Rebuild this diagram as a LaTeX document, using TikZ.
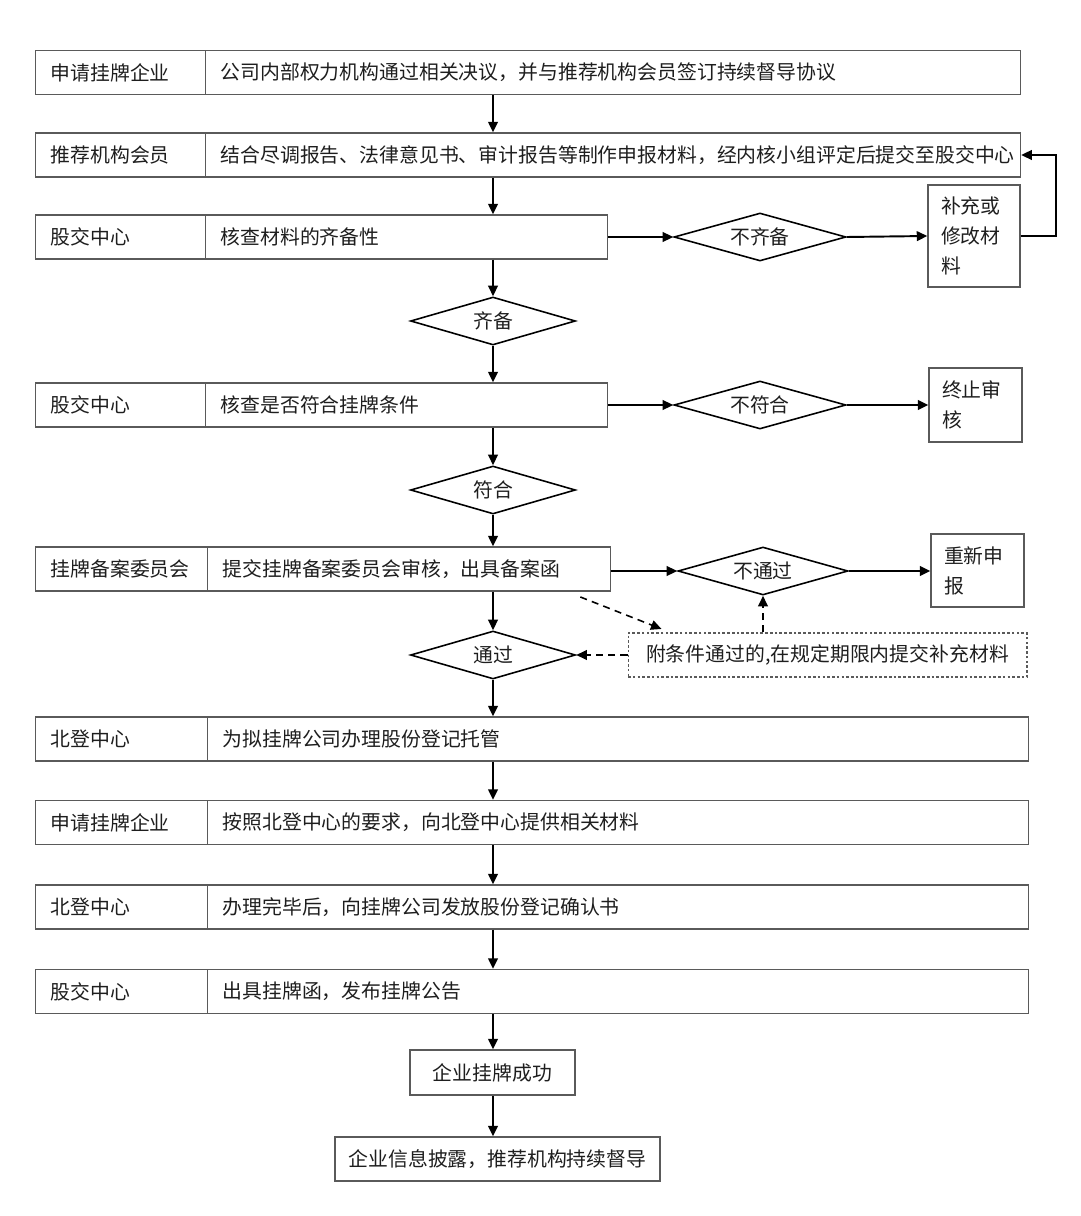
\documentclass[tikz,border=0pt]{standalone}
\usepackage{fontspec}
\setmainfont{Noto Sans CJK SC}
\usepackage{xcolor}
\usepackage{tikz}
\usetikzlibrary{arrows.meta,shapes}
\definecolor{boxgray}{HTML}{5A5A5A}
\definecolor{txtgray}{HTML}{1E1E1E}

\begin{document}
\begin{tikzpicture}[x=0.02cm,y=-0.02cm,font=\fontsize{11.3}{17}\selectfont,text=txtgray,
	cell/.style={draw=boxgray,line width=0.8pt,minimum height=0.88cm,inner xsep=0.3cm,align=left,anchor=west},
	choice/.style={diamond,aspect=3.4,draw,line width=0.9pt,inner sep=0pt,minimum width=3.3cm,minimum height=0.96cm},
	side/.style={draw=boxgray,line width=0.8pt,inner xsep=0.26cm,align=left},
	>={Triangle[length=6pt,width=5.5pt]}]
	\useasboundingbox (0,0) rectangle (1080,1216);
	%
	\node[cell,text width=2.8cm] (l1) at (35,72.5) {申请挂牌企业};
	\node[cell,text width=15.7cm] (c1) at (205,72.5) {公司内部权力机构通过相关决议，并与推荐机构会员签订持续督导协议};
	\node[cell,text width=2.8cm] (l2) at (35,155) {推荐机构会员};
	\node[cell,text width=15.7cm] (c2) at (205,155) {结合尽调报告、法律意见书、审计报告等制作申报材料，经内核小组评定后提交至股交中心};
	\node[cell,text width=2.8cm] (l3) at (35,237) {股交中心};
	\node[cell,text width=7.44cm] (c3) at (205,237) {核查材料的齐备性};
	\node[cell,text width=2.8cm] (l4) at (35,405) {股交中心};
	\node[cell,text width=7.44cm] (c4) at (205,405) {核查是否符合挂牌条件};
	\node[cell,text width=2.84cm] (l5) at (35,569) {挂牌备案委员会};
	\node[cell,text width=7.46cm] (c5) at (207,569) {提交挂牌备案委员会审核，出具备案函};
	\node[cell,text width=2.84cm] (l6) at (35,739) {北登中心};
	\node[cell,text width=15.82cm] (c6) at (207,739) {为拟挂牌公司办理股份登记托管};
	\node[cell,text width=2.84cm] (l7) at (35,822.5) {申请挂牌企业};
	\node[cell,text width=15.82cm] (c7) at (207,822.5) {按照北登中心的要求，向北登中心提供相关材料};
	\node[cell,text width=2.84cm] (l8) at (35,907) {北登中心};
	\node[cell,text width=15.82cm] (c8) at (207,907) {办理完毕后，向挂牌公司发放股份登记确认书};
	\node[cell,text width=2.84cm] (l9) at (35,991.5) {股交中心};
	\node[cell,text width=15.82cm] (c9) at (207,991.5) {出具挂牌函，发布挂牌公告};
	%
	\node[choice] (ok1) at (493,321) {齐备};
	\node[choice] (ok2) at (493,490) {符合};
	\node[choice] (ok3) at (493,655) {通过};
	\node[choice,minimum width=3.44cm] (no1) at (760,237) {不齐备};
	\node[choice,minimum width=3.44cm] (no2) at (760,405) {不符合};
	\node[choice,minimum width=3.4cm] (no3) at (763,571) {不通过};
	%
	\node[side,text width=1.32cm,minimum height=2.04cm] (fix) at (974,236) {补充或\\修改材\\料};
	\node[side,text width=1.34cm,minimum height=1.48cm] (stop) at (975.5,405) {终止审\\核};
	\node[side,text width=1.34cm,minimum height=1.46cm] (redo) at (977.5,570.5) {重新申\\报};
	\node[draw=boxgray,dash pattern=on 1.5pt off 1.2pt,line width=0.6pt,minimum width=7.98cm,minimum height=0.88cm] (note) at (827.5,655) {附条件通过的,在规定期限内提交补充材料};
	%
	\node[draw=boxgray,line width=0.8pt,minimum width=3.3cm,minimum height=0.9cm] (done) at (492.5,1072.5) {企业挂牌成功};
	\node[draw=boxgray,line width=0.8pt,minimum width=6.5cm,minimum height=0.88cm] (info) at (497.5,1159) {企业信息披露，推荐机构持续督导};
	%
	\path[->,line width=1.1pt]
	(c1.south -| ok1) edge (c2.north -| ok1)
	(c2.south -| ok1) edge (c3.north -| ok1)
	(c3.south -| ok1) edge (ok1.north)
	(ok1.south) edge (c4.north -| ok1)
	(c4.south -| ok1) edge (ok2.north)
	(ok2.south) edge (c5.north -| ok1)
	(c5.south -| ok1) edge (ok3.north)
	(ok3.south) edge (c6.north -| ok1)
	(c6.south -| ok1) edge (c7.north -| ok1)
	(c7.south -| ok1) edge (c8.north -| ok1)
	(c8.south -| ok1) edge (c9.north -| ok1)
	(c9.south -| ok1) edge (done.north -| ok1)
	(done.south -| ok1) edge (info.north -| ok1)
	(c3.east) edge (no1.west)
	(no1.east) edge (fix.west)
	(c4.east) edge (no2.west)
	(no2.east) edge (stop.west)
	(c5.east |- no3) edge (no3.west)
	(no3.east) edge (redo.west |- no3);
	\draw[->,line width=1.1pt] (fix.east) -- ++(35,0) |- (c2.east);
	%
	\path[->,line width=0.9pt,dash pattern=on 4pt off 3pt]
	(note.west) edge (ok3.east)
	(note.north -| no3) edge (no3.south)
	([xshift=-0.62cm,yshift=-3pt]c5.south east) edge ([xshift=0.68cm,yshift=2pt]note.north west);
\end{tikzpicture}
\end{document}
